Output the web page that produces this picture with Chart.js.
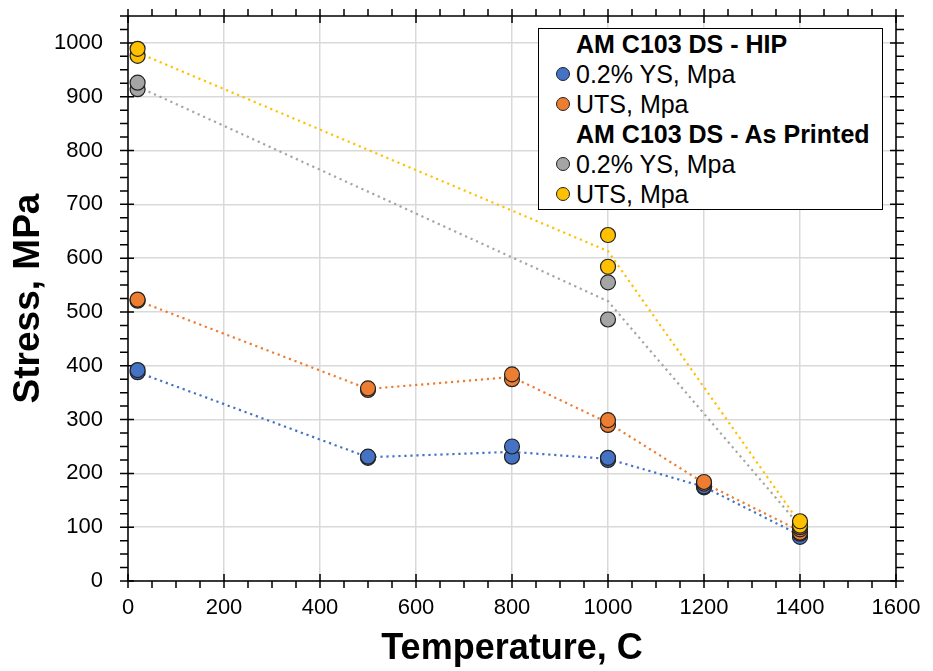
<!DOCTYPE html>
<html>
<head>
<meta charset="utf-8">
<title>AM C103 DS stress vs temperature</title>
<script src="https://cdn.jsdelivr.net/npm/chart.js@4.4.1/dist/chart.umd.min.js"></script>
<style>
  html, body { margin: 0; padding: 0; background: #fff; }
  #wrap { position: relative; width: 933px; height: 671px; }
  #legend {
    position: absolute; left: 538px; top: 28px; width: 345px; height: 182px;
    box-sizing: border-box; border: 1.5px solid #000; background: #fff;
    font-family: "Liberation Sans", Arial, sans-serif; font-size: 25px; color: #000;
  }
  #legend .row { position: relative; height: 30px; line-height: 30px; padding-left: 37px; white-space: nowrap; }
  #legend .head { font-weight: bold; }
  #legend .dot {
    position: absolute; left: 17px; top: 8px; width: 12px; height: 12px;
    border-radius: 50%; border: 1px solid #222;
  }
</style>
</head>
<body>
<div id="wrap">
  <canvas id="chart" width="933" height="671"></canvas>
  <div id="legend"></div>
</div>
<script>
// temperatures (C) of each test, two tests per temperature
const hipTemps = [20, 20, 500, 500, 800, 800, 1000, 1000, 1200, 1200, 1400, 1400];
const hipYS    = [388, 392, 229, 231, 231, 250, 225, 229, 174, 176, 82, 88];
const hipUTS   = [521, 523, 355, 358, 375, 384, 290, 299, 181, 184, 90, 96];

const apTemps  = [20, 20, 1000, 1000, 1400, 1400];
const apYS     = [914, 926, 486, 555, 100, 105];
const apUTS    = [976, 989, 584, 643, 103, 111];

// dotted trend lines
const hipLineTemps = [20, 500, 800, 1000, 1200, 1400];
const hipYSLine    = [388, 230, 240, 227, 175, 85];
const hipUTSLine   = [521, 357, 379, 294, 182, 93];
const apLineTemps  = [20, 1000, 1400];
const apYSLine     = [919, 520, 102];
const apUTSLine    = [982, 613, 107];

const xTicks = [0, 200, 400, 600, 800, 1000, 1200, 1400, 1600];
const yTicks = [0, 100, 200, 300, 400, 500, 600, 700, 800, 900, 1000];

const colors = { blue: "#4472C4", orange: "#ED7D31", gray: "#A5A5A5", yellow: "#FFC000" };

const legendRows = [
  { head: "AM C103 DS - HIP" },
  { label: "0.2% YS, Mpa", color: colors.blue },
  { label: "UTS, Mpa", color: colors.orange },
  { head: "AM C103 DS - As Printed" },
  { label: "0.2% YS, Mpa", color: colors.gray },
  { label: "UTS, Mpa", color: colors.yellow }
];

const FONT = '"Liberation Sans", Arial, sans-serif';
Chart.defaults.font.family = FONT;
Chart.defaults.color = "#000";

const pts = (xs, ys) => xs.map((x, i) => ({ x: x, y: ys[i] }));

function lineSet(xs, ys, color) {
  return {
    data: pts(xs, ys), showLine: true, borderColor: color, borderWidth: 2.2,
    borderDash: [2.2, 3.8], pointRadius: 0, pointHoverRadius: 0, order: 10
  };
}
function markSet(label, xs, ys, color, order) {
  return {
    label: label, data: pts(xs, ys), showLine: false, backgroundColor: color,
    borderColor: "#222", borderWidth: 1.2, pointRadius: 7.5, pointHoverRadius: 7.5, order: order
  };
}

// frame round the plot area with major (crossing) and minor (outside) ticks
const frameTicks = {
  id: "frameTicks",
  beforeDatasetsDraw(chart) {
    const { ctx, chartArea: a, scales } = chart;
    const x = scales.x, y = scales.y;
    ctx.save();
    ctx.strokeStyle = "#000";
    ctx.lineWidth = 1.5;
    ctx.strokeRect(a.left, a.top, a.right - a.left, a.bottom - a.top);
    ctx.beginPath();
    for (let v = 0; v <= 1600; v += 50) {
      const px = x.getPixelForValue(v);
      const major = v % 200 === 0;
      ctx.moveTo(px, a.bottom + 7); ctx.lineTo(px, major ? a.bottom - 7 : a.bottom);
      ctx.moveTo(px, a.top - 7); ctx.lineTo(px, major ? a.top + 7 : a.top);
    }
    for (let v = 0; v <= 1050; v += 25) {
      const py = y.getPixelForValue(v);
      const major = v % 100 === 0;
      ctx.moveTo(a.left - 8, py); ctx.lineTo(major ? a.left + 6 : a.left, py);
      ctx.moveTo(a.right + 8, py); ctx.lineTo(major ? a.right - 6 : a.right, py);
    }
    ctx.stroke();
    ctx.restore();
  }
};

new Chart(document.getElementById("chart").getContext("2d"), {
  type: "scatter",
  data: {
    datasets: [
      markSet("HIP 0.2% YS, Mpa", hipTemps, hipYS, colors.blue, 4),
      markSet("HIP UTS, Mpa", hipTemps, hipUTS, colors.orange, 3),
      markSet("As Printed 0.2% YS, Mpa", apTemps, apYS, colors.gray, 2),
      markSet("As Printed UTS, Mpa", apTemps, apUTS, colors.yellow, 1),
      lineSet(hipLineTemps, hipYSLine, colors.blue),
      lineSet(hipLineTemps, hipUTSLine, colors.orange),
      lineSet(apLineTemps, apYSLine, colors.gray),
      lineSet(apLineTemps, apUTSLine, colors.yellow)
    ]
  },
  options: {
    responsive: false,
    animation: false,
    layout: { padding: { top: 16, right: 37, left: 0, bottom: 0 } },
    plugins: { legend: { display: false }, tooltip: { enabled: false } },
    scales: {
      x: {
        type: "linear", min: 0, max: 1600,
        afterBuildTicks: s => { s.ticks = xTicks.map(v => ({ value: v })); },
        afterFit: s => { s.height = 90; s.paddingLeft = 0; s.paddingRight = 0; },
        ticks: { padding: 14, font: { size: 22 }, color: "#000", maxRotation: 0,
                 callback: v => String(v) },
        grid: { color: "#d9d9d9", lineWidth: 1.5, drawTicks: false },
        border: { display: false },
        title: { display: true, text: "Temperature, C", color: "#000",
                 font: { size: 36, weight: "bold" }, padding: { top: 0, bottom: 0 } }
      },
      y: {
        type: "linear", min: 0, max: 1050,
        afterBuildTicks: s => { s.ticks = yTicks.map(v => ({ value: v })); },
        afterFit: s => { s.width = 128; s.paddingTop = 0; s.paddingBottom = 0; },
        ticks: { padding: 25, font: { size: 22 }, color: "#000", callback: v => String(v) },
        grid: { color: "#d9d9d9", lineWidth: 1.5, drawTicks: false },
        border: { display: false },
        title: { display: true, text: "Stress, MPa", color: "#000",
                 font: { size: 37, weight: "bold" }, padding: { top: 7, bottom: 0 } }
      }
    }
  },
  plugins: [frameTicks]
});

// legend box inside the plot
const legendEl = document.getElementById("legend");
legendRows.forEach(r => {
  const row = document.createElement("div");
  row.className = "row";
  if (r.head) {
    row.classList.add("head");
    row.textContent = r.head;
  } else {
    const dot = document.createElement("span");
    dot.className = "dot";
    dot.style.background = r.color;
    row.appendChild(dot);
    row.appendChild(document.createTextNode(r.label));
  }
  legendEl.appendChild(row);
});
</script>
</body>
</html>
